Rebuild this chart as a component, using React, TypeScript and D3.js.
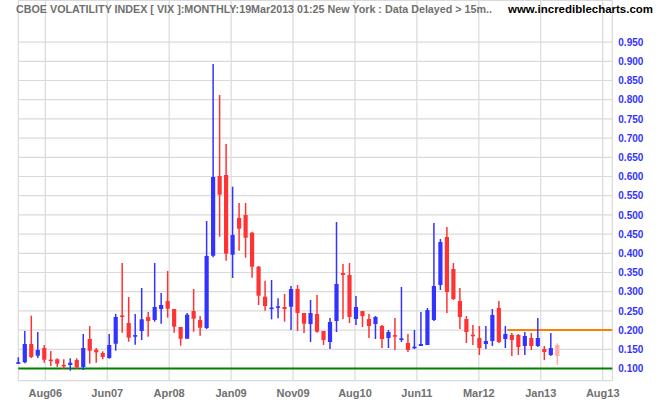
import React from "react";
import * as d3 from "d3";

// Monthly VIX candles (values /100), Apr 2006 .. Mar 2013
const startMonth = "Apr 2006";
const opens = [
  0.1135, 0.1161, 0.1638, 0.1333, 0.1534, 0.1229, 0.124, 0.1095, 0.1091, 0.1221,
  0.1039, 0.1768, 0.149, 0.1404, 0.1273, 0.1646, 0.2375, 0.2185, 0.1846, 0.1977,
  0.2341, 0.2263, 0.2549, 0.2758, 0.2549, 0.2081, 0.1776, 0.2497, 0.2263, 0.2055,
  0.3937, 0.6013, 0.6039, 0.3964, 0.4919, 0.4997, 0.4536, 0.3651, 0.287, 0.256,
  0.2595, 0.2602, 0.261, 0.307, 0.2445, 0.2159, 0.2419, 0.1977, 0.169, 0.2237,
  0.3487, 0.3435, 0.2289, 0.2497, 0.2289, 0.2159, 0.2107, 0.1794, 0.1853, 0.1759,
  0.1664, 0.1542, 0.1586, 0.1612, 0.2263, 0.3174, 0.4424, 0.3591, 0.2758, 0.2289,
  0.1872, 0.1794, 0.1638, 0.1716, 0.2576, 0.1768, 0.1872, 0.1872, 0.1586, 0.1794,
  0.1586, 0.1508, 0.1352, 0.1612,
];
const highs = [
  0.1292, 0.1977, 0.2375, 0.195, 0.1612, 0.1456, 0.1266, 0.124, 0.1266, 0.1266,
  0.1898, 0.2107, 0.1534, 0.1448, 0.1898, 0.2419, 0.3747, 0.2862, 0.2419, 0.3096,
  0.2471, 0.3747, 0.2966, 0.3539, 0.2549, 0.2081, 0.2445, 0.307, 0.2367, 0.4841,
  0.893, 0.8122, 0.6846, 0.5734, 0.531, 0.531, 0.4563, 0.3669, 0.3286, 0.3305,
  0.2828, 0.294, 0.3148, 0.3174, 0.2445, 0.2784, 0.2914, 0.1977, 0.2315, 0.4815,
  0.3721, 0.3747, 0.2888, 0.2497, 0.2419, 0.2367, 0.2133, 0.2003, 0.2315, 0.3122,
  0.1898, 0.2003, 0.2471, 0.2576, 0.4789, 0.4372, 0.4685, 0.3747, 0.3096, 0.2367,
  0.2133, 0.2107, 0.2107, 0.2549, 0.2758, 0.2107, 0.1924, 0.1898, 0.195, 0.1924,
  0.2315, 0.1586, 0.1924, 0.1656,
];
const lows = [
  0.1117, 0.1135, 0.1273, 0.1273, 0.1151, 0.1065, 0.1039, 0.098, 0.0943, 0.0995,
  0.0961, 0.1125, 0.1151, 0.124, 0.1255, 0.1464, 0.1932, 0.1698, 0.162, 0.1742,
  0.1828, 0.2219, 0.2167, 0.2323, 0.1932, 0.1594, 0.1776, 0.1958, 0.1854, 0.2029,
  0.39, 0.4432, 0.3807, 0.3357, 0.4068, 0.3885, 0.3365, 0.2654, 0.2505, 0.228,
  0.2307, 0.2219, 0.2003, 0.1977, 0.1924, 0.169, 0.1932, 0.1612, 0.1508, 0.195,
  0.2289, 0.2185, 0.213, 0.2081, 0.1793, 0.1768, 0.1534, 0.1534, 0.1482, 0.169,
  0.143, 0.1508, 0.1586, 0.1612, 0.2237, 0.3044, 0.2445, 0.2784, 0.2029, 0.1664,
  0.1612, 0.1352, 0.1508, 0.1586, 0.1664, 0.1534, 0.1326, 0.1352, 0.1352, 0.1482,
  0.156, 0.1221, 0.1326, 0.1091,
];
const closes = [
  0.115, 0.1638, 0.13, 0.1482, 0.1229, 0.1195, 0.1125, 0.1055, 0.1151, 0.1031,
  0.1534, 0.1464, 0.1422, 0.13, 0.1612, 0.2341, 0.2349, 0.1802, 0.1853, 0.2281,
  0.2237, 0.2602, 0.2654, 0.2557, 0.2089, 0.1776, 0.2401, 0.2297, 0.2063, 0.393,
  0.5987, 0.5526, 0.399, 0.4477, 0.464, 0.4406, 0.3651, 0.2896, 0.2628, 0.2575,
  0.2605, 0.2549, 0.307, 0.2445, 0.2167, 0.2445, 0.1958, 0.1742, 0.2211, 0.32,
  0.3435, 0.2341, 0.2602, 0.2367, 0.2107, 0.2341, 0.1768, 0.195, 0.1846, 0.1768,
  0.1482, 0.1555, 0.1638, 0.2523, 0.3148, 0.4294, 0.2992, 0.281, 0.2341, 0.195,
  0.1846, 0.1534, 0.1716, 0.2393, 0.169, 0.1898, 0.1742, 0.156, 0.1846, 0.1586,
  0.1794, 0.143, 0.1534, 0.1326,
];

const xTickLabels = ["Aug06", "Jun07", "Apr08", "Jan09", "Nov09", "Aug10", "Jun11", "Mar12", "Jan13", "Aug13"];
const yTickValues = [0.1, 0.15, 0.2, 0.25, 0.3, 0.35, 0.4, 0.45, 0.5, 0.55, 0.6, 0.65, 0.7, 0.75, 0.8, 0.85, 0.9, 0.95];
const supportLevel = 0.1;
const resistanceLevel = 0.2;
const resistanceStartIndex = 75.3;

const title = "CBOE VOLATILITY INDEX [ VIX ]:MONTHLY:19Mar2013 01:25 New York : Data Delayed > 15m..";
const site = "www.incrediblecharts.com";

const W = 665;
const H = 405;
const plotLeft = 18.3;
const plotRight = 612.3;
const plotTop = 0.5;
const plotBottom = 380.7;

const BLUE = "#3333ff";
const RED = "#ff3333";
const PINK = "#ffaaaa";
const GRID = "#dadada";
const FONT = "'Liberation Sans', Arial, sans-serif";

export default function App() {
  const n = opens.length;
  const x = d3.scaleLinear().domain([0, n - 1]).range([18.3, 557.3]);
  const y = d3.scaleLinear().domain([0.1, 0.95]).range([368.5, 42.1]);
  const tickStart = 4.158;
  const tickStep = 9.537;
  const tickIdx = xTickLabels.map((_, k) => tickStart + k * tickStep);
  const bodyW = 4.2;

  return (
    <svg
      width={W}
      height={H}
      style={{ position: "absolute", left: 0, top: 0, background: "#fff" }}
      xmlns="http://www.w3.org/2000/svg"
    >
      <rect x={0} y={0} width={W} height={H} fill="#fff" />
      {/* horizontal grid */}
      {yTickValues.map((v) => (
        <line key={"h" + v} x1={plotLeft} x2={plotRight} y1={y(v)} y2={y(v)} stroke={GRID} strokeWidth={1.2} />
      ))}
      {/* vertical grid */}
      {tickIdx.map((t, k) => (
        <line key={"v" + k} x1={x(t)} x2={x(t)} y1={plotTop} y2={plotBottom} stroke={GRID} strokeWidth={1.2} />
      ))}
      {/* frame */}
      <line x1={plotLeft} x2={plotRight} y1={plotTop} y2={plotTop} stroke={GRID} strokeWidth={1.2} />
      <line x1={plotLeft} x2={plotRight} y1={plotBottom} y2={plotBottom} stroke={GRID} strokeWidth={1.2} />
      <line x1={plotLeft} x2={plotLeft} y1={plotTop} y2={plotBottom} stroke={GRID} strokeWidth={1.2} />
      <line x1={plotRight} x2={plotRight} y1={plotTop} y2={plotBottom} stroke={GRID} strokeWidth={1.2} />

      {/* level lines */}
      <line x1={plotLeft} x2={plotRight} y1={y(supportLevel)} y2={y(supportLevel)} stroke="#008000" strokeWidth={2} />
      <line x1={x(resistanceStartIndex)} x2={plotRight} y1={y(resistanceLevel)} y2={y(resistanceLevel)} stroke="#ff8000" strokeWidth={2} />

      {/* candles */}
      {opens.map((o, i) => {
        const c = closes[i];
        const hi = highs[i];
        const lo = lows[i];
        const up = c >= o;
        const color = i === n - 1 ? PINK : up ? BLUE : RED;
        const top = y(Math.max(o, c));
        const bot = y(Math.min(o, c));
        const bh = Math.max(1.6, bot - top);
        const cx = x(i);
        return (
          <g key={"c" + i}>
            <line x1={cx} x2={cx} y1={y(hi)} y2={y(lo)} stroke={color} strokeWidth={1.5} />
            <rect x={cx - bodyW / 2} y={(top + bot) / 2 - bh / 2} width={bodyW} height={bh} fill={color} />
          </g>
        );
      })}

      {/* y labels */}
      {yTickValues.map((v) => (
        <text
          key={"yl" + v}
          x={618.3}
          y={y(v)}
          dy="0.36em"
          fill={BLUE}
          fontFamily={FONT}
          fontWeight="bold"
          fontSize={10}
        >
          {d3.format(".3f")(v)}
        </text>
      ))}

      {/* x labels */}
      {tickIdx.map((t, k) => (
        <text
          key={"xl" + k}
          x={x(t)}
          y={397.3}
          textAnchor="middle"
          fill="#707070"
          fontFamily={FONT}
          fontWeight="bold"
          fontSize={11}
        >
          {xTickLabels[k]}
        </text>
      ))}

      {/* title */}
      <text x={16} y={13} fill="#707070" fontFamily={FONT} fontWeight="bold" fontSize={11} textLength={476} lengthAdjust="spacingAndGlyphs">
        {title}
      </text>
      <text x={508} y={13} fill="#000" fontFamily={FONT} fontWeight="bold" fontSize={11} textLength={145} lengthAdjust="spacingAndGlyphs">
        {site}
      </text>
    </svg>
  );
}
